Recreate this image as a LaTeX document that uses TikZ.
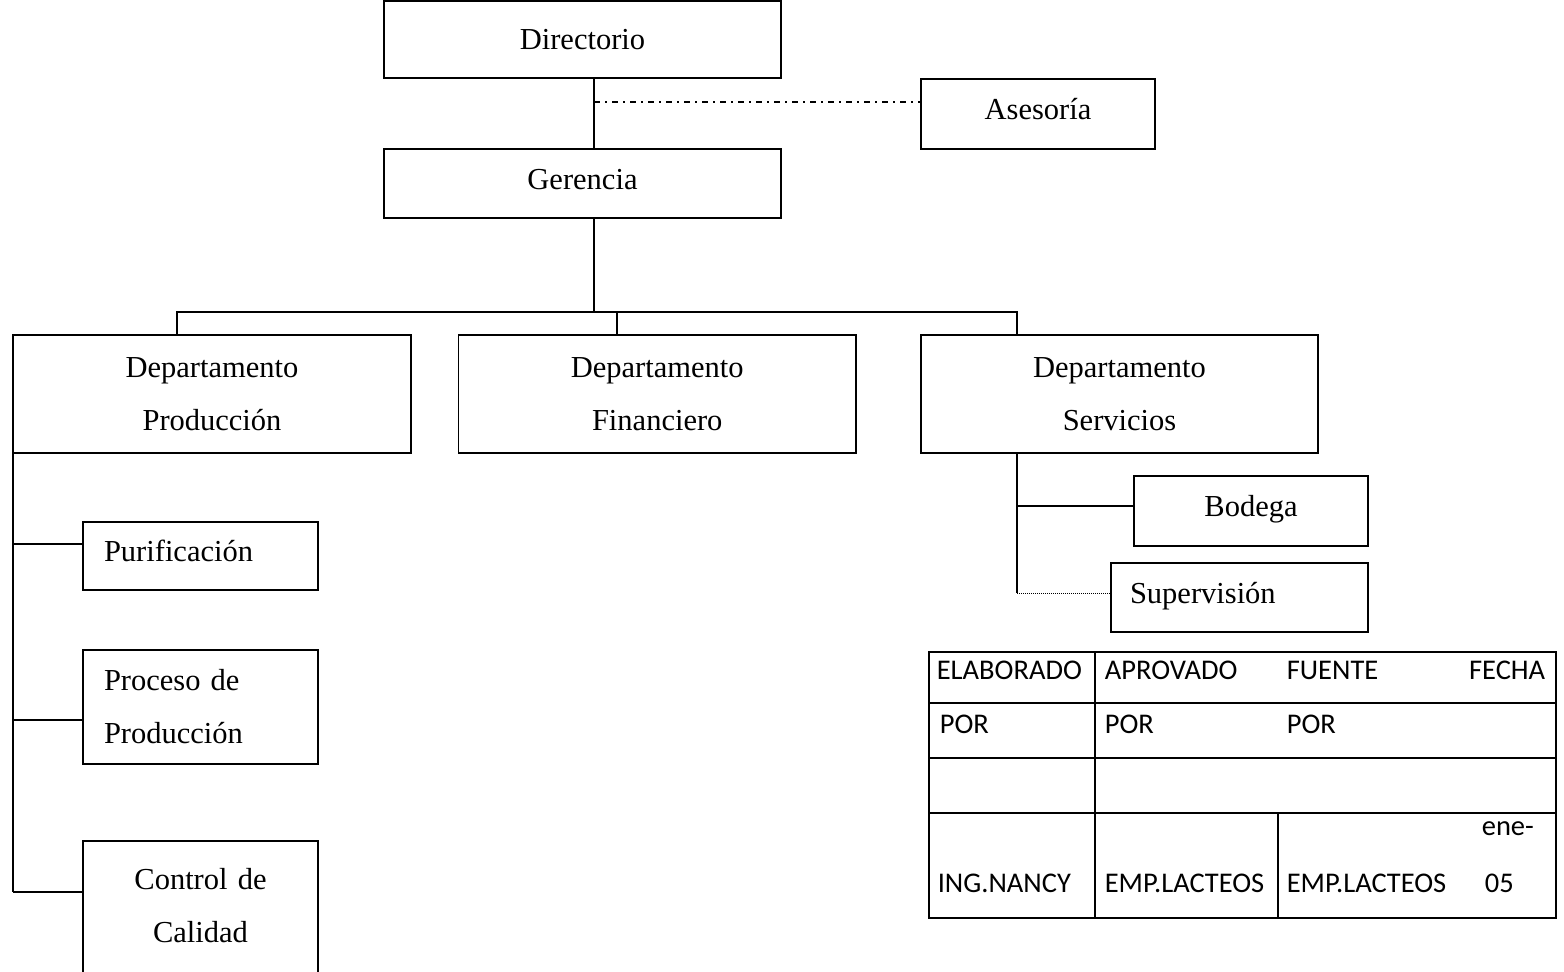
\documentclass[tikz,border=0pt]{standalone}
\usepackage{fontspec}
\setmainfont{Liberation Serif}
\newfontfamily\tablefont{Carlito}
\begin{document}
\begin{tikzpicture}[x=1pt,y=-1pt,
  line width=1.6pt,
  box/.style={draw, rectangle, inner sep=0pt, line width=1.6pt,
    font=\fontsize{30.5}{53}\selectfont},
  lifted/.style={text height=21pt, text depth=10pt},
  cell/.style={font=\tablefont\fontsize{28.5}{34}\selectfont, inner sep=0pt, anchor=west},
  advice/.style={line width=1.1pt, dash pattern=on 6pt off 5pt on 2pt off 5pt},
  aux/.style={line width=0.9pt, dash pattern=on 1pt off 1pt}]

\useasboundingbox (0,0) rectangle (1564,972);

% top of the chart
\node[box, minimum width=397pt, minimum height=77pt] (dir) at (582.5,39.5) {Directorio};
\node[box, lifted, minimum width=234pt, minimum height=70pt] (ase) at (1038,114) {Asesoría};
\node[box, lifted, minimum width=397pt, minimum height=69pt] (ger) at (582.5,183.5) {Gerencia};

% departments
\node[box, align=center, minimum width=398pt, minimum height=118pt] (dprod) at (212,394) {Departamento\\Producción};
\node[box, align=center, minimum width=397.5pt, minimum height=118pt] (dfin) at (657.25,394) {Departamento\\Financiero};
\node[box, align=center, minimum width=397pt, minimum height=118pt] (dserv) at (1119.5,394) {Departamento\\Servicios};

% production units
\node[box, lifted, align=left, text width=193pt, inner xsep=21pt, minimum height=68pt] (pur) at (200.5,556) {Purificación};
\node[box, align=left, text width=193pt, inner xsep=21pt, minimum height=114pt] (proc) at (200.5,707) {Proceso de\\Producción};
% the last unit runs on past the lower edge of the page
\node[box, draw=none, outer sep=0pt, align=center, text width=235pt, minimum height=129pt] (ctrl) at (200.5,905.5) {Control de\\Calidad};
\draw ([yshift=-10pt]ctrl.south west) -- (ctrl.north west) -- (ctrl.north east) -- ([yshift=-10pt]ctrl.south east);

% service units
\node[box, lifted, minimum width=234pt, minimum height=70pt] (bod) at (1251,511) {Bodega};
\node[box, lifted, align=left, text width=219pt, inner xsep=19pt, minimum height=69pt] (sup) at (1239.5,597.5) {Supervisión};

% junction points
\coordinate (spine) at (594,0);
\coordinate (adv) at (594,102);
\coordinate (busL) at (177,312);
\coordinate (busM) at (617,312);
\coordinate (busR) at (1017,312);
\coordinate (jpur) at (13,544);
\coordinate (jproc) at (13,720);
\coordinate (jctrl) at (13,892);
\coordinate (jbod) at (1017,506);
\coordinate (jsup) at (1017,593);

% connectors
\draw (dir.south -| spine) -- (ger.north -| spine);
\draw[advice] (adv) -- (adv -| ase.west);
\draw (ger.south -| spine) -- (spine |- busL);
\draw (dprod.north -| busL) -- (busL) -- (busR) -- (dserv.north -| busR);
\draw (busM) -- (dfin.north -| busM);

\draw (dprod.south -| jctrl) -- (jctrl);
\draw (jpur) -- (jpur -| pur.west);
\draw (jproc) -- (jproc -| proc.west);
\draw (jctrl) -- (jctrl -| ctrl.west);

\draw (dserv.south -| jsup) -- (jsup);
\draw (jbod) -- (jbod -| bod.west);
\draw[aux] (jsup) -- (jsup -| sup.west);

% approval table
\draw (929,652) rectangle (1556,918);
\foreach \yy in {703,758,813} \draw (929,\yy) -- (1556,\yy);
\draw (1095,652) -- (1095,918);
\draw (1278,813) -- (1278,918);

\node[cell] (c1) at (936,670) {ELABORADO};
\node[cell] (c2) at (1104,670) {APROVADO};
\node[cell] (c3) at (1286,670) {FUENTE};
\node[cell, anchor=east] (c4) at (1546,670) {FECHA};
\node[cell] (c5) at (939,724) {POR};
\node[cell] (c6) at (1104,724) {POR};
\node[cell] (c7) at (1286,724) {POR};
\node[cell] (c8) at (937,883) {ING.NANCY};
\node[cell] (c9) at (1104,883) {EMP.LACTEOS};
\node[cell] (c10) at (1286,883) {EMP.LACTEOS};
\node[cell] (c11) at (1481,829) {ene-};
\node[cell] (c12) at (1484,883) {05};
\end{tikzpicture}
\end{document}
